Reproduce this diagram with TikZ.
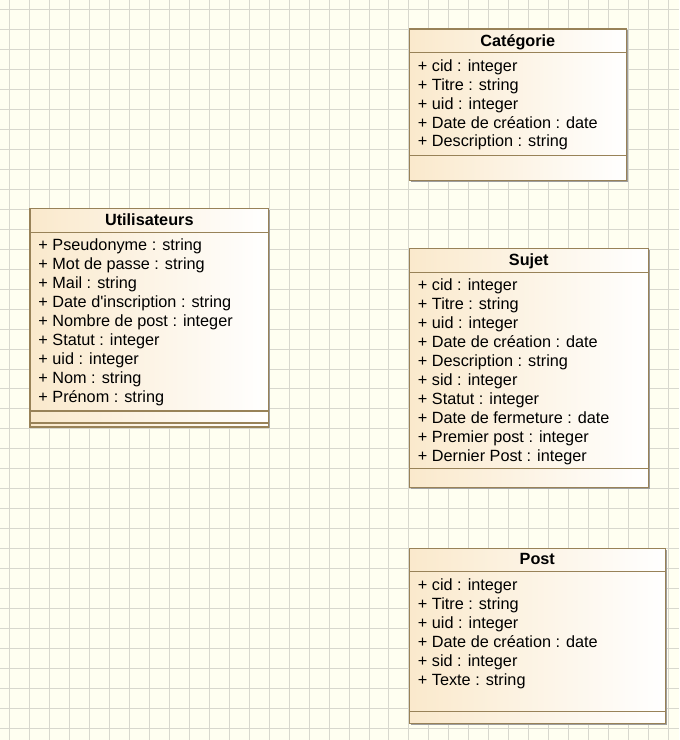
\documentclass[tikz,border=0pt]{standalone}
\usepackage{fontspec}
\setmainfont{Liberation Sans}
\usepackage{xcolor}
\usepackage{tikz}
\usetikzlibrary{positioning}

\definecolor{paper}{RGB}{255,255,241}
\definecolor{gridc}{RGB}{216,216,206}
\definecolor{umlborder}{RGB}{152,130,88}
\definecolor{umlfill}{RGB}{250,233,204}
\newcommand\umlfont{\fontsize{12.2pt}{14pt}\selectfont}

\begin{document}
\begin{tikzpicture}[x=0.75pt,y=-0.75pt,
 gridline/.style={draw=gridc,line width=0.75pt},
 classbox/.style={draw=umlborder,line width=0.9pt,left color=umlfill,right color=white},
 compline/.style={draw=umlborder,line width=0.9pt},
 boxshadow/.style={fill=black!38},
 classname/.style={font=\umlfont\bfseries,inner sep=0pt,anchor=base},
 member/.style={font=\umlfont,inner sep=0pt,outer sep=0pt,text height=10.5pt,text depth=3.75pt,anchor=north west},
 nextmember/.style={member,below right=0pt and 0pt of #1.south west}]

 % paper and grid
 \fill[paper] (0,0) rectangle (679,740);
 \foreach \gx in {9,29,...,669} \draw[gridline] (\gx,0) -- (\gx,740);
 \foreach \gy in {9,29,...,729} \draw[gridline] (0,\gy) -- (679,\gy);

 % Catégorie
 \fill[boxshadow] (411,30) rectangle (628,182);
 \draw[classbox] (409.5,28.5) rectangle (626.5,180.5);
 \draw[compline] (409.5,52) -- (626.5,52) (409.5,155) -- (626.5,155);
 \node[classname] (cat) at (518,46.2) {Catégorie};
 \node[member] (cat1) at (418,56.7) {+ cid : integer};
 \node[nextmember=cat1] (cat2) {+ Titre : string};
 \node[nextmember=cat2] (cat3) {+ uid : integer};
 \node[nextmember=cat3] (cat4) {+ Date de création : date};
 \node[nextmember=cat4] (cat5) {+ Description : string};

 % Utilisateurs
 \fill[boxshadow] (31,210) rectangle (270,428.5);
 \draw[classbox] (29.5,208.5) rectangle (268.5,427);
 \draw[compline] (29.5,232) -- (268.5,232) (29.5,411) -- (268.5,411)
  (29.5,423) -- (268.5,423);
 \node[classname] (user) at (149,225.2) {Utilisateurs};
 \node[member] (user1) at (38,236.7) {+ Pseudonyme : string};
 \node[nextmember=user1] (user2) {+ Mot de passe : string};
 \node[nextmember=user2] (user3) {+ Mail : string};
 \node[nextmember=user3] (user4) {+ Date d\textquotesingle inscription : string};
 \node[nextmember=user4] (user5) {+ Nombre de post : integer};
 \node[nextmember=user5] (user6) {+ Statut : integer};
 \node[nextmember=user6] (user7) {+ uid : integer};
 \node[nextmember=user7] (user8) {+ Nom : string};
 \node[nextmember=user8] (user9) {+ Prénom : string};

 % Sujet
 \fill[boxshadow] (411,250) rectangle (650,489);
 \draw[classbox] (409.5,248.5) rectangle (648.5,487.5);
 \draw[compline] (409.5,272) -- (648.5,272) (409.5,469) -- (648.5,469);
 \node[classname] (subj) at (529,265.7) {Sujet};
 \node[member] (subj1) at (418,276.7) {+ cid : integer};
 \node[nextmember=subj1] (subj2) {+ Titre : string};
 \node[nextmember=subj2] (subj3) {+ uid : integer};
 \node[nextmember=subj3] (subj4) {+ Date de création : date};
 \node[nextmember=subj4] (subj5) {+ Description : string};
 \node[nextmember=subj5] (subj6) {+ sid : integer};
 \node[nextmember=subj6] (subj7) {+ Statut : integer};
 \node[nextmember=subj7] (subj8) {+ Date de fermeture : date};
 \node[nextmember=subj8] (subj9) {+ Premier post : integer};
 \node[nextmember=subj9] (subj10) {+ Dernier Post : integer};

 % Post
 \fill[boxshadow] (411,550) rectangle (667,725.5);
 \draw[classbox] (409.5,548.5) rectangle (665.5,724);
 \draw[compline] (409.5,572) -- (665.5,572) (409.5,712) -- (665.5,712);
 \node[classname] (post) at (537.5,565.2) {Post};
 \node[member] (post1) at (418,576.7) {+ cid : integer};
 \node[nextmember=post1] (post2) {+ Titre : string};
 \node[nextmember=post2] (post3) {+ uid : integer};
 \node[nextmember=post3] (post4) {+ Date de création : date};
 \node[nextmember=post4] (post5) {+ sid : integer};
 \node[nextmember=post5] (post6) {+ Texte : string};
\end{tikzpicture}
\end{document}
